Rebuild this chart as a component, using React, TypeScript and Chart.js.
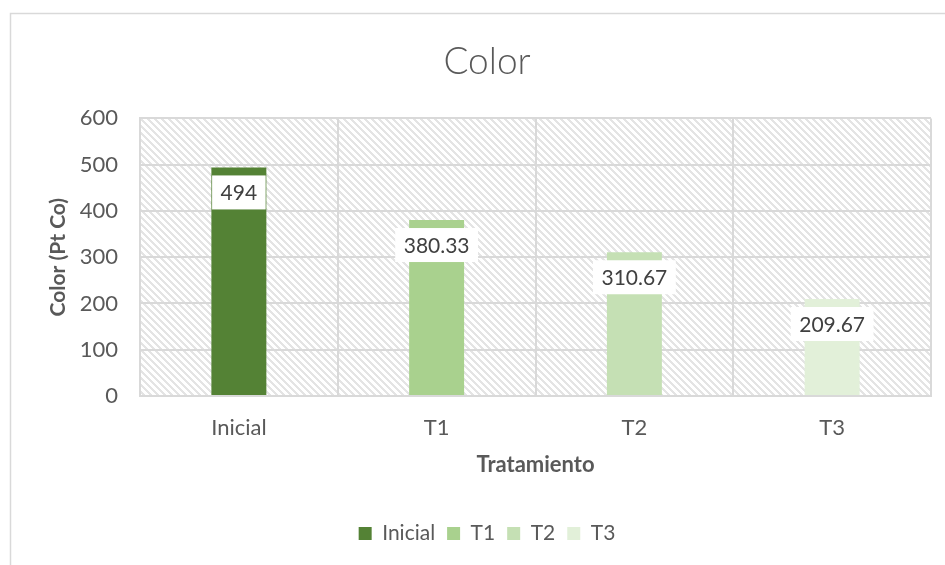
import React, { useEffect, useRef } from "react";
import { Chart, registerables } from "chart.js";

Chart.register(...registerables);

const categories = ["Inicial", "T1", "T2", "T3"];
const seriesNames = ["Inicial", "T1", "T2", "T3"];
const colorValues = [494, 380.33, 310.67, 209.67];
const seriesColors = ["#548235", "#A9D18E", "#C5E0B4", "#E2F0D9"];
const yTicks = [0, 100, 200, 300, 400, 500, 600];

const FONT = "Lato, 'Noto Sans', sans-serif";
const TEXT = "#595959";
const GRID = "#d9d9d9";

// Diagonal hatch used to fill the plot area
function makeHatch(ctx: CanvasRenderingContext2D): CanvasPattern | string {
  const n = 7;
  const tile = document.createElement("canvas");
  tile.width = n;
  tile.height = n;
  const t = tile.getContext("2d");
  if (!t) return "#ffffff";
  t.fillStyle = "#ffffff";
  t.fillRect(0, 0, n, n);
  t.fillStyle = "#e4e4e4";
  for (let y = 0; y < n; y++) {
    for (let k = 0; k < 3; k++) {
      const x = (y + k) % n;
      t.fillRect(x, y, 1, 1);
    }
  }
  return ctx.createPattern(tile, "repeat") || "#ffffff";
}

const backdrop = {
  id: "backdrop",
  beforeDraw(chart: any) {
    const { ctx, chartArea, width, height } = chart;
    ctx.save();
    ctx.fillStyle = "#ffffff";
    ctx.fillRect(0, 0, width, height);
    ctx.strokeStyle = GRID;
    ctx.lineWidth = 1.5;
    ctx.strokeRect(10.5, 13.5, width - 12, height - 15);
    ctx.fillStyle = makeHatch(ctx);
    ctx.fillRect(chartArea.left, chartArea.top, chartArea.right - chartArea.left, chartArea.bottom - chartArea.top);
    ctx.restore();
  },
};

// White value boxes just inside the top of each bar
const valueLabels = {
  id: "valueLabels",
  afterDatasetsDraw(chart: any) {
    const { ctx } = chart;
    ctx.save();
    ctx.font = `21px ${FONT}`;
    ctx.textAlign = "center";
    ctx.textBaseline = "middle";
    chart.data.datasets.forEach((ds: any, di: number) => {
      const meta = chart.getDatasetMeta(di);
      meta.data.forEach((bar: any, i: number) => {
        const v = ds.data[i];
        if (v === null || v === undefined) return;
        const text = String(v);
        const w = ctx.measureText(text).width + 17;
        const h = 34;
        const top = bar.y + 8;
        ctx.fillStyle = "#ffffff";
        ctx.fillRect(bar.x - w / 2, top, w, h);
        ctx.fillStyle = "#404040";
        ctx.fillText(text, bar.x, top + h / 2 + 1);
      });
    });
    ctx.restore();
  },
};

export default function App() {
  const ref = useRef<HTMLCanvasElement>(null);

  useEffect(() => {
    if (!ref.current) return;
    const datasets = seriesNames.map((name, si) => ({
      label: name,
      data: categories.map((_, ci) => (ci === si ? colorValues[si] : null)),
      backgroundColor: seriesColors[si],
      borderWidth: 0,
      grouped: false,
      categoryPercentage: 1,
      barPercentage: 0.278,
    }));

    const chart = new Chart(ref.current, {
      type: "bar",
      data: { labels: categories, datasets },
      plugins: [backdrop, valueLabels],
      options: {
        animation: false,
        responsive: false,
        maintainAspectRatio: false,
        layout: { padding: { left: 10, right: 0, top: 13, bottom: 26 } },
        plugins: {
          title: {
            display: true,
            text: "Color",
            color: TEXT,
            font: { family: FONT, size: 37, weight: "300" as any },
            padding: { top: 27, bottom: 34 },
          },
          legend: {
            display: true,
            position: "bottom",
            labels: {
              color: TEXT,
              font: { family: FONT, size: 21 },
              boxWidth: 13,
              boxHeight: 13,
              padding: 12,
            },
          },
          tooltip: { enabled: false },
        },
        scales: {
          x: {
            grid: { display: true, color: GRID, lineWidth: 2, drawTicks: false, offset: true },
            border: { display: true, color: GRID, width: 2 },
            ticks: { color: TEXT, font: { family: FONT, size: 22 }, padding: 19 },
            title: {
              display: true,
              text: "Tratamiento",
              color: TEXT,
              font: { family: FONT, size: 22, weight: "bold" },
              padding: { top: 0, bottom: 33 },
            },
            afterFit: (s: any) => {
              s.height = 115;
            },
          },
          y: {
            min: 0,
            max: 600,
            afterBuildTicks: (s: any) => {
              s.ticks = yTicks.map((v) => ({ value: v }));
            },
            grid: { display: true, color: GRID, lineWidth: 2, drawTicks: false },
            border: { display: true, color: GRID, width: 2 },
            ticks: { color: TEXT, font: { family: FONT, size: 22 }, padding: 22 },
            title: {
              display: true,
              text: "Color (Pt Co)",
              color: TEXT,
              font: { family: FONT, size: 21, weight: "bold" },
              padding: { top: 36, bottom: 0 },
            },
            afterFit: (s: any) => {
              s.width = 130;
            },
          },
          yRight: {
            type: "linear",
            position: "right",
            display: true,
            grid: { display: false },
            border: { display: false },
            ticks: { display: false },
            afterFit: (s: any) => {
              s.width = 33;
            },
          },
        },
      },
    });
    return () => chart.destroy();
  }, []);

  return (
    <div
      style={{
        position: "fixed",
        left: 0,
        top: 0,
        width: 945,
        height: 565,
        overflow: "hidden",
        background: "#ffffff",
      }}
    >
      <canvas ref={ref} width={964} height={580} style={{ display: "block", width: 964, height: 580 }} />
    </div>
  );
}
